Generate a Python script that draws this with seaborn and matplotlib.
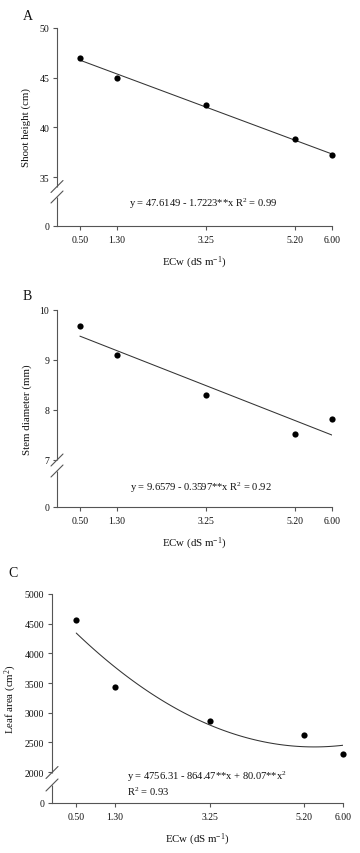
"""Growth responses to irrigation water salinity (ECw): shoot height,
stem diameter and leaf area, each with its fitted regression, saved to out.png."""
import numpy as np
import matplotlib
matplotlib.use("Agg")
import matplotlib.pyplot as plt
import seaborn as sns

# data
ECW = [0.50, 1.30, 3.25, 5.20, 6.00]
ECW_LABELS = ["0.50", "1.30", "3.25", "5.20", "6.00"]
SHOOT_HEIGHT = [47.0, 45.0, 42.2, 38.8, 37.2]
STEM_DIAMETER = [9.68, 9.10, 8.31, 7.53, 7.82]
LEAF_AREA = [4560, 3440, 2860, 2620, 2300]

EQ_A = r"y = 47.6149 - 1.7223**x R$^2$ = 0.99"
EQ_B = r"y = 9.6579 - 0.3597**x R$^2$ = 0.92"
EQ_C1 = r"y = 4756.31 - 864.47**x + 80.07**x$^2$"
EQ_C2 = r"R$^2$ = 0.93"

W, H = 360, 854
INK = "#111111"
AXIS = "#555555"

sns.set_style("white")
plt.rcParams["font.family"] = ["Liberation Serif", "DejaVu Serif"]
plt.rcParams["mathtext.fontset"] = "custom"
plt.rcParams["mathtext.rm"] = "Liberation Serif"
plt.rcParams["mathtext.it"] = "Liberation Serif:italic"


def broken_scale(lo, gap):
    """compress [0, lo] into [lo - gap, lo], keep everything above lo as is"""
    def fwd(y):
        y = np.asarray(y, dtype=float)
        return np.where(y >= lo, y, lo - gap + y / lo * gap)

    def inv(t):
        t = np.asarray(t, dtype=float)
        return np.where(t >= lo, t, (t - lo + gap) / gap * lo)
    return fwd, inv


def panel(fig, box, y, order, lo, gap, top, yticks, ylabel, ylab_x, breaks):
    # box is (left, top, right, bottom) in pixels
    l, t, r, b = box
    ax = fig.add_axes([l / W, 1 - b / H, (r - l) / W, (b - t) / H])
    ax.set_yscale("function", functions=broken_scale(lo, gap))
    sns.regplot(x=ECW, y=y, order=order, ci=None, ax=ax, color="black",
                scatter_kws=dict(s=20, linewidths=0, alpha=1, clip_on=False, zorder=4),
                line_kws=dict(lw=0.75, color="#333333"))
    ax.set_xlim(0, 6)
    ax.set_ylim(0, top)
    ax.set_xticks(ECW, ECW_LABELS)
    ax.set_yticks(yticks, [str(v) for v in yticks])
    sns.despine(ax=ax)
    for s in ("left", "bottom"):
        ax.spines[s].set_color(AXIS)
        ax.spines[s].set_linewidth(0.8)
    ax.tick_params(axis="both", which="major", bottom=True, left=True, direction="out",
                   length=3, width=0.8, color=AXIS, labelsize=7, labelcolor=INK)
    ax.tick_params(axis="x", pad=3.5)
    ax.tick_params(axis="y", pad=2.5)
    ax.set_xlabel(r"ECw (dS m$^{-1}$)", fontsize=7.8, color=INK, labelpad=7)
    ax.set_ylabel(ylabel, fontsize=7.8, color=INK)
    ax.yaxis.set_label_coords(ylab_x, 0.5)
    ax.grid(False)

    # axis break: blank the spine between two slashes (positions in px)
    b1, b2 = [(b - p) / (b - t) for p in breaks]
    ax.plot([0, 0], [b2, b1], transform=ax.transAxes, color="white", lw=2.5,
            clip_on=False, zorder=5, solid_capstyle="butt")
    dx, dy = 6 / (r - l), 6 / (b - t)
    for f in (b1, b2):
        ax.plot([-dx, dx], [f - dy, f + dy], transform=ax.transAxes, color=AXIS,
                lw=0.8, clip_on=False, zorder=6)
    return ax


fig = plt.figure(figsize=(W / 100, H / 100), dpi=100)

ax_a = panel(fig, (57, 29, 332, 227), SHOOT_HEIGHT, 1, 35, 4.93, 50,
             [0, 35, 40, 45, 50], "Shoot height (cm)", -0.095, (187.5, 198))
ax_a.text(0.531, 0.116, EQ_A, transform=ax_a.transAxes, ha="center", va="center",
          fontsize=7.6, color=INK)

ax_b = panel(fig, (57, 311, 332, 508), STEM_DIAMETER, 1, 7, 0.94, 10,
             [0, 7, 8, 9, 10], "Stem diameter (mm)", -0.09, (461, 472))
ax_b.text(0.525, 0.105, EQ_B, transform=ax_b.transAxes, ha="center", va="center",
          fontsize=7.6, color=INK)

ax_c = panel(fig, (52, 595, 343, 804), LEAF_AREA, 2, 2000, 522, 5000,
             [0, 2000, 2500, 3000, 3500, 4000, 4500, 5000],
             r"Leaf area (cm$^2$)", -0.113, (773.5, 786))
ax_c.text(0.258, 0.129, EQ_C1, transform=ax_c.transAxes, ha="left", va="center",
          fontsize=7.6, color=INK)
ax_c.text(0.258, 0.057, EQ_C2, transform=ax_c.transAxes, ha="left", va="center",
          fontsize=7.6, color=INK)

for letter, x, y in (("A", 23, 16), ("B", 23, 297), ("C", 8, 574)):
    fig.text(x / W, 1 - y / H, letter, fontsize=10, color=INK, ha="left", va="center")

fig.savefig("out.png", dpi=100, facecolor="white")
